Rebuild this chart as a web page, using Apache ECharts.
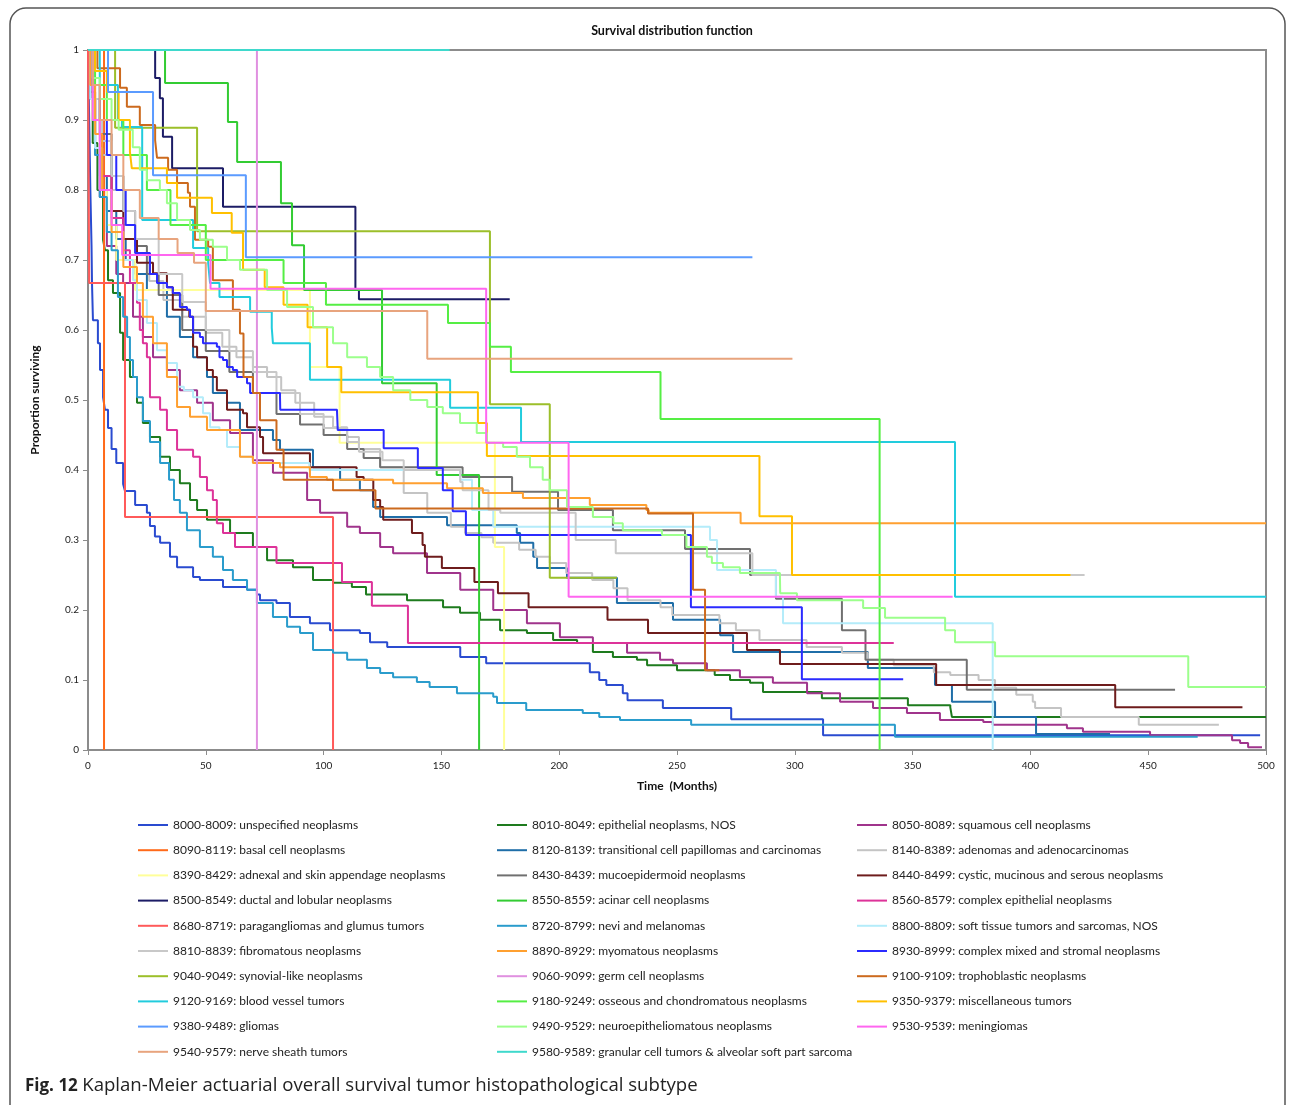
<!DOCTYPE html>
<html><head><meta charset="utf-8">
<script src="https://cdn.jsdelivr.net/npm/echarts@6/dist/echarts.min.js"></script>
<style>html,body{margin:0;padding:0;background:#fff}#c{width:1295px;height:1105px}</style>
</head><body><div id="c"></div>
<script>
// ---- data (time in months, proportion surviving after the step) ----
const names = [
"8000-8009: unspecified neoplasms","8010-8049: epithelial neoplasms, NOS","8050-8089: squamous cell neoplasms",
"8090-8119: basal cell neoplasms","8120-8139: transitional cell papillomas and carcinomas","8140-8389: adenomas and adenocarcinomas",
"8390-8429: adnexal and skin appendage neoplasms","8430-8439: mucoepidermoid neoplasms","8440-8499: cystic, mucinous and serous neoplasms",
"8500-8549: ductal and lobular neoplasms","8550-8559: acinar cell neoplasms","8560-8579: complex epithelial neoplasms",
"8680-8719: paragangliomas and glumus tumors","8720-8799: nevi and melanomas","8800-8809: soft tissue tumors and sarcomas, NOS",
"8810-8839: fibromatous neoplasms","8890-8929: myomatous neoplasms","8930-8999: complex mixed and stromal neoplasms",
"9040-9049: synovial-like neoplasms","9060-9099: germ cell neoplasms","9100-9109: trophoblastic neoplasms",
"9120-9169: blood vessel tumors","9180-9249: osseous and chondromatous neoplasms","9350-9379: miscellaneous tumors",
"9380-9489: gliomas","9490-9529: neuroepitheliomatous neoplasms","9530-9539: meningiomas",
"9540-9579: nerve sheath tumors","9580-9589: granular cell tumors & alveolar soft part sarcoma"];
const colors = ['#2a4bd0','#1e7b1e','#a0348c','#ff6a1a','#1f6ea8','#c4c4c4','#ffff99','#707070','#6e1c1c',
'#1c1c66','#33cc33','#dd3399','#ff5a5a','#2a9ccc','#b4ecfa','#c8c8c8','#ffa030','#2b2bff',
'#9cbf2a','#e090e0','#cc6a1e','#22ccdd','#55ee44','#ffc000','#5b9bff','#9cff8c','#ff66f0','#e8a47e','#3fd9cc'];
const xTicks = [0,50,100,150,200,250,300,350,400,450,500];
const yTicks = [0,0.1,0.2,0.3,0.4,0.5,0.6,0.7,0.8,0.9,1];

const s8000 = [[0,1],[0.5,0.9],[1,0.8],[1.5,0.72],[1.7,0.667],[2.1,0.614],[4.2,0.581],[5.1,0.543],[6.4,0.504],[7.2,0.486],[8.5,0.46],[10,0.43],[12,0.41],[14.9,0.38],[15.7,0.37],[20,0.35],[25,0.339],[26.3,0.32],[28.4,0.305],[30.6,0.296],[34.8,0.276],[37.8,0.261],[44.6,0.247],[47.5,0.243],[57.3,0.233],[67.5,0.229],[71.7,0.222],[73,0.214],[80,0.21],[85.7,0.19],[94.2,0.181],[102.7,0.171],[115.4,0.167],[119.7,0.154],[127,0.147],[158,0.133],[169,0.124],[213,0.111],[217,0.1],[220,0.093],[227,0.081],[229,0.071],[244,0.06],[273,0.044],[312,0.021],[497.5,0.021]];
const s8010 = [[0,1],[1,0.93],[2,0.867],[4,0.8],[6.4,0.729],[7.2,0.714],[8.5,0.671],[10.6,0.653],[13.6,0.596],[14.9,0.557],[17.8,0.533],[20.8,0.496],[23.3,0.467],[26.3,0.447],[30.6,0.419],[34.8,0.4],[39,0.381],[43.3,0.357],[46.3,0.343],[50.5,0.329],[60.3,0.31],[70,0.29],[76,0.271],[87,0.261],[95.5,0.243],[104,0.239],[112,0.233],[118,0.222],[135.4,0.214],[150.7,0.204],[157.9,0.196],[166.4,0.186],[174.9,0.171],[186.3,0.167],[197.4,0.157],[207.6,0.153],[214.3,0.14],[222.8,0.133],[233,0.129],[237.3,0.121],[250,0.114],[266,0.107],[272.5,0.1],[281,0.096],[286.5,0.083],[311.5,0.074],[348,0.064],[366,0.061],[366.7,0.047],[500,0.047]];
const s8050 = [[0,1],[1,0.93],[3,0.85],[5,0.79],[8,0.72],[12,0.68],[14.9,0.667],[19.1,0.619],[23.3,0.59],[27.6,0.561],[33.5,0.543],[39,0.514],[46.3,0.496],[53,0.471],[60.3,0.453],[70,0.414],[78.5,0.396],[93,0.357],[98.5,0.339],[110,0.319],[115.4,0.31],[124,0.29],[129.5,0.281],[143.9,0.253],[158,0.229],[172,0.2],[186.3,0.181],[200.3,0.161],[214.3,0.153],[228.8,0.139],[242.8,0.129],[248.3,0.124],[262.7,0.114],[276.7,0.104],[290.7,0.096],[305.2,0.081],[319.2,0.069],[333.2,0.06],[347.6,0.053],[361.6,0.043],[380,0.04],[384,0.036],[408.3,0.036],[415.5,0.031],[422.3,0.026],[450.8,0.021],[485.6,0.014],[489,0.01],[492.4,0.004],[498.3,0.004]];
const s8090 = [[0,1],[6.8,0]];
const s8120 = [[0,1],[1,0.93],[3,0.86],[5,0.82],[8,0.77],[12,0.73],[16,0.7],[20,0.68],[25,0.657],[33.5,0.619],[39,0.59],[44.6,0.561],[50.5,0.533],[53,0.51],[59,0.496],[64.5,0.457],[78.5,0.443],[81.5,0.429],[95.5,0.404],[107,0.386],[115.4,0.371],[121,0.347],[124,0.333],[152.4,0.321],[182,0.31],[183.4,0.296],[189,0.276],[190.6,0.26],[203.3,0.246],[224.5,0.21],[248.3,0.186],[268.3,0.164],[273.8,0.14],[331,0.117],[359.5,0.093],[366.7,0.069],[385,0.047],[402.4,0.023],[433.8,0.023]];
const s8140 = [[0,1],[1,0.95],[3,0.9],[6,0.85],[10,0.8],[15,0.75],[20,0.71],[26,0.67],[32,0.643],[40,0.619],[50,0.596],[57,0.576],[63,0.561],[70,0.547],[76,0.533],[82,0.514],[88,0.496],[96,0.476],[104,0.461],[110,0.447],[115,0.43],[124,0.404],[134,0.367],[144,0.339],[154,0.319],[160,0.31],[167,0.304],[172,0.296],[183,0.286],[190,0.276],[196,0.267],[203,0.253],[214,0.243],[223,0.231],[229,0.214],[243,0.204],[248,0.193],[268,0.181],[275,0.171],[285,0.157],[305,0.147],[320,0.139],[331,0.129],[342,0.121],[359,0.111],[366,0.107],[378,0.1],[385,0.089],[394,0.079],[401,0.069],[402,0.06],[413,0.047],[446,0.036],[480,0.036]];
const s8390 = [[0,1],[2,0.9],[5,0.8],[8,0.75],[12,0.7],[20,0.657],[94.2,0.547],[106.8,0.439],[172.7,0.29],[176.6,0]];
const s8430 = [[0,1],[2,0.93],[5,0.88],[10,0.82],[15,0.77],[20,0.72],[25,0.68],[30,0.65],[40,0.6],[50,0.57],[60,0.54],[70,0.51],[80,0.48],[90,0.465],[100,0.45],[110,0.43],[117,0.417],[124,0.404],[159,0.39],[180,0.369],[199.5,0.343],[222.8,0.314],[253.4,0.287],[281,0.25],[292,0.216],[320,0.171],[330,0.129],[373,0.086],[461.4,0.086]];
const s8440 = [[0,1],[1,0.94],[3,0.88],[6,0.82],[10,0.77],[15,0.73],[20.8,0.696],[27.6,0.681],[33.5,0.661],[36,0.629],[43,0.619],[44.6,0.576],[46.3,0.561],[50.5,0.543],[53,0.533],[54.7,0.514],[59,0.486],[65.8,0.481],[67.5,0.461],[73,0.447],[74.3,0.424],[94.2,0.404],[114,0.39],[117,0.386],[121.1,0.357],[124,0.347],[125.3,0.329],[137.5,0.31],[142,0.293],[143,0.276],[150.2,0.26],[164,0.24],[174,0.224],[187,0.204],[220.5,0.186],[237.7,0.167],[279.7,0.143],[293.7,0.123],[360,0.093],[436,0.061],[490,0.061]];
const s8500 = [[0,1],[28.5,0.96],[30.5,0.931],[31.8,0.876],[35.7,0.831],[57.3,0.776],[113.5,0.657],[115,0.644],[179,0.644]];
const s8550 = [[0,1],[32.7,0.953],[59.4,0.897],[63.3,0.84],[81.9,0.781],[86.6,0.721],[91.7,0.657],[124.8,0.524],[148,0.393],[166,0]];
const s8560 = [[0,1],[1,0.95],[3,0.88],[6,0.82],[10,0.76],[15,0.714],[17.8,0.667],[20.8,0.639],[22,0.6],[23.3,0.581],[25,0.561],[26.3,0.504],[30.6,0.486],[33.5,0.457],[37.8,0.429],[44.6,0.419],[47.5,0.39],[50.5,0.371],[53,0.357],[54.7,0.324],[57.3,0.31],[62.4,0.29],[80,0.267],[107.8,0.24],[120.5,0.206],[135.8,0.153],[342,0.153]];
const s8680 = [[0,1],[0.5,0.667],[15.7,0.333],[104,0]];
const s8720 = [[0,1],[1,0.93],[3,0.85],[5,0.79],[8,0.74],[10,0.714],[12.7,0.647],[14.9,0.619],[16.6,0.59],[17.8,0.557],[19.1,0.533],[20.8,0.504],[23.3,0.47],[26.3,0.44],[30.6,0.41],[34.4,0.386],[36.5,0.357],[39,0.339],[42,0.314],[47.5,0.29],[53,0.276],[57.3,0.257],[61.5,0.243],[67.5,0.229],[71.7,0.21],[78.5,0.19],[84.5,0.176],[90,0.167],[95.5,0.143],[104,0.139],[110,0.129],[118.4,0.117],[124,0.11],[129.5,0.104],[139.6,0.097],[145,0.09],[156.6,0.081],[172,0.076],[173.6,0.067],[186,0.057],[210,0.053],[217,0.047],[225.8,0.043],[256,0.036],[342.5,0.019],[471,0.019]];
const s8800 = [[0,1],[1,0.93],[3,0.86],[6,0.8],[10,0.74],[15,0.7],[19.1,0.671],[20.8,0.643],[25,0.61],[29.3,0.571],[33.5,0.553],[37.8,0.519],[40.7,0.514],[44.6,0.504],[48.8,0.481],[51.8,0.461],[55.8,0.457],[59,0.433],[64.5,0.419],[70,0.41],[94,0.4],[158,0.386],[163,0.343],[172,0.319],[264,0.3],[267,0.257],[292,0.219],[295,0.181],[384,0]];
const s8810 = [[0,1],[2,0.93],[5,0.87],[10,0.82],[15,0.77],[20,0.73],[30,0.68],[40,0.64],[50,0.6],[60,0.57],[70,0.54],[80,0.51],[90,0.48],[100,0.46],[110,0.44],[115,0.426],[125,0.414],[134,0.4],[158,0.383],[159,0.371],[170,0.343],[175,0.339],[207,0.3],[224,0.281],[282,0.25],[423,0.25]];
const s8890 = [[0,1],[1,0.95],[3,0.88],[6,0.8],[10,0.74],[15,0.69],[20.8,0.667],[23.3,0.619],[27.6,0.581],[33.5,0.533],[37.8,0.49],[43.3,0.476],[50.5,0.457],[64.5,0.419],[70,0.41],[81.5,0.404],[94.2,0.39],[101.4,0.386],[129.5,0.381],[152.4,0.374],[167.6,0.367],[184.6,0.36],[213,0.35],[237,0.343],[238,0.339],[277,0.324],[500,0.324]];
const s8930 = [[0,1],[2,0.95],[5,0.9],[8,0.85],[12,0.8],[16,0.75],[20,0.71],[26.3,0.68],[29.3,0.667],[33.5,0.661],[36,0.653],[39,0.633],[42,0.629],[43.3,0.619],[44.6,0.596],[47.5,0.59],[48.8,0.581],[54.7,0.576],[55.8,0.561],[57.3,0.557],[59,0.547],[61.5,0.543],[63.3,0.533],[67.5,0.524],[68.8,0.51],[81.5,0.504],[81.6,0.486],[105.7,0.483],[106,0.457],[125.5,0.431],[140,0.403],[150.6,0.371],[154.8,0.341],[160.4,0.307],[255.9,0.204],[303,0.101],[346,0.101]];
const s9040 = [[0,1],[11.5,0.889],[46.3,0.741],[170.6,0.494],[196,0.246],[224.5,0.246]];
const s9060 = [[0,1],[71.7,0]];
const s9100 = [[0,1],[4,0.974],[13.6,0.946],[16.5,0.919],[22,0.893],[28.5,0.871],[29.3,0.846],[34,0.829],[37.8,0.81],[42.4,0.796],[43.3,0.776],[45.4,0.729],[51,0.719],[53,0.671],[61.5,0.629],[64.5,0.595],[66,0.533],[70,0.51],[73,0.471],[80,0.429],[83,0.386],[104,0.371],[122,0.345],[237.7,0.338],[256.8,0.229],[261.9,0.114],[268,0.114]];
const s9120 = [[0,1],[5,0.95],[12.7,0.9],[14.4,0.89],[23,0.757],[44.6,0.717],[51,0.696],[51.8,0.667],[55.8,0.647],[68.8,0.626],[78,0.603],[78.5,0.581],[94.2,0.529],[153.7,0.489],[183.8,0.44],[368,0.219],[500,0.219]];
const s9180 = [[0,1],[3,0.95],[8,0.9],[15,0.85],[25,0.8],[35,0.75],[50,0.7],[83,0.667],[101,0.636],[152.8,0.61],[170.6,0.576],[179.5,0.54],[243,0.473],[336,0]];
const s9350 = [[0,1],[3,0.97],[8,0.94],[13,0.9],[17.8,0.854],[18.6,0.831],[33.5,0.81],[37.8,0.789],[52.6,0.767],[61,0.739],[65.8,0.686],[75,0.661],[83,0.636],[93.2,0.604],[101.5,0.547],[107.5,0.511],[165.5,0.467],[169.3,0.42],[285,0.334],[298.8,0.25],[417,0.25]];
const s9380 = [[0,1],[8.5,0.94],[27.6,0.821],[67,0.704],[282,0.704]];
const s9490 = [[0,1],[2,0.96],[5,0.93],[10,0.9],[13,0.886],[19,0.861],[22,0.829],[25,0.814],[30.5,0.8],[33.5,0.781],[37.8,0.757],[43.3,0.743],[47.5,0.729],[53,0.719],[59,0.7],[64.5,0.686],[76,0.657],[84.5,0.633],[95.5,0.604],[104,0.581],[110,0.561],[118.4,0.547],[124,0.533],[129.5,0.514],[136.8,0.5],[144,0.49],[150.6,0.481],[157.9,0.467],[165,0.453],[169.3,0.439],[176.2,0.433],[182,0.419],[187.6,0.404],[193,0.386],[196,0.371],[203.3,0.347],[214.3,0.333],[223,0.324],[227,0.314],[243.6,0.307],[254,0.29],[262.7,0.276],[264.8,0.267],[269.5,0.261],[276.7,0.253],[293.7,0.247],[293.8,0.224],[300.9,0.214],[329,0.203],[338.3,0.189],[363.8,0.171],[368,0.154],[385,0.134],[467,0.09],[500,0.09]];
const s9530 = [[0,1],[2,0.9],[5,0.8],[10,0.75],[14.5,0.707],[52,0.659],[169,0.439],[204,0.219],[367,0.219]];
const s9540 = [[0,1],[2,0.95],[5,0.9],[10,0.85],[15,0.8],[22,0.76],[30,0.73],[38,0.71],[45,0.696],[50,0.627],[144,0.559],[299,0.559]];
const s9580 = [[0,1],[153.5,1]];

const curves = [s8000,s8010,s8050,s8090,s8120,s8140,s8390,s8430,s8440,s8500,s8550,s8560,s8680,s8720,s8800,
  s8810,s8890,s8930,s9040,s9060,s9100,s9120,s9180,s9350,s9380,s9490,s9530,s9540,s9580];

const FONT = 'Lato';
const chart = echarts.init(document.getElementById('c'), null, {renderer:'canvas'});
const series = curves.map((d,i)=>({
  name:names[i], type:'line', step:'end', data:d, showSymbol:false, symbol:'none',
  lineStyle:{width:2,color:colors[i]}, itemStyle:{color:colors[i]}, silent:true, animation:false
}));
function col(k){ const out=[]; for(let i=k;i<names.length;i+=3) out.push(names[i]); return out; }
const legendBase = {orient:'vertical', top:813, itemGap:11.2, itemWidth:30, itemHeight:2, icon:'rect', selectedMode:false,
  textStyle:{fontFamily:FONT,fontSize:12,color:'#222',lineHeight:14}};
chart.setOption({
  animation:false,
  grid:{left:88, top:50, width:1178, height:700, show:true, borderColor:'#8c8c8c', borderWidth:2},
  xAxis:{type:'value', min:0, max:500, interval:50, name:'Time  (Months)', nameLocation:'middle', nameGap:30,
    nameTextStyle:{fontFamily:FONT,fontWeight:'bold',fontSize:12,color:'#111'},
    axisLine:{lineStyle:{color:'#8c8c8c',width:2}}, axisTick:{show:true,length:5,lineStyle:{color:'#8c8c8c'}},
    axisLabel:{fontFamily:FONT,fontSize:10,color:'#222',margin:11}, splitLine:{show:false}},
  yAxis:{type:'value', min:0, max:1, interval:0.1, name:'Proportion surviving', nameLocation:'middle', nameGap:47, nameRotate:90,
    nameTextStyle:{fontFamily:FONT,fontWeight:'bold',fontSize:12,color:'#111'},
    axisLine:{show:true,lineStyle:{color:'#8c8c8c',width:2}}, axisTick:{show:true,length:5,lineStyle:{color:'#8c8c8c'}},
    axisLabel:{fontFamily:FONT,fontSize:10,color:'#222',margin:9,formatter:v=>(Math.abs(v)<1e-9?'0':(Math.abs(v-1)<1e-9?'1':v.toFixed(1)))},
    splitLine:{show:false}},
  legend:[Object.assign({left:133,data:col(0)},legendBase),Object.assign({left:492,data:col(1)},legendBase),Object.assign({left:852,data:col(2)},legendBase)],
  graphic:[
    {type:'rect',shape:{x:10,y:8,width:1275,height:1130,r:16},style:{fill:'none',stroke:'#555',lineWidth:1.5},silent:true},
    {type:'text',x:672,y:31,style:{text:'Survival distribution function',fontFamily:FONT,fontWeight:'bold',fontSize:12.5,fill:'#111',textAlign:'center',textVerticalAlign:'middle'}},
    {type:'text',x:25,y:1086,style:{text:'{b|Fig. 12} {n|Kaplan-Meier actuarial overall survival tumor histopathological subtype}',
      rich:{b:{fontWeight:'bold',fontFamily:'Open Sans',fontSize:17,fill:'#222'},n:{fontFamily:'Open Sans',fontSize:18.6,fill:'#222'}},
      fontFamily:'Open Sans',fontSize:17,fill:'#222',textVerticalAlign:'middle'}}
  ],
  series:series
});
</script></body></html>
